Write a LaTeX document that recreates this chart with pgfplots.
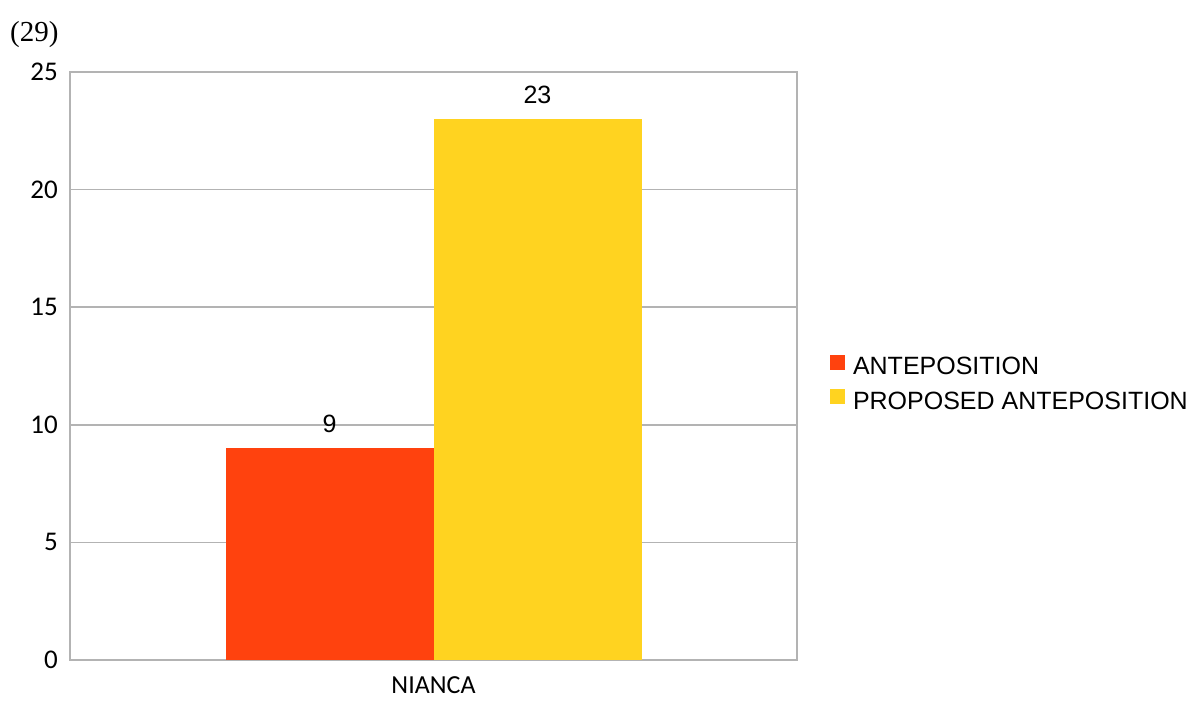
\documentclass[border=0pt]{standalone}
\usepackage{pgfplots}
\pgfplotsset{compat=1.18}
\usepackage{fontspec}
\setmainfont{Liberation Sans}
\newfontfamily\tickfont{Carlito}
\newfontfamily\serifnum{Liberation Serif}
\definecolor{seriesA}{HTML}{FF420E}
\definecolor{seriesB}{HTML}{FFD320}
\definecolor{gridgray}{HTML}{B3B3B3}

\begin{document}
\begin{tikzpicture}[x=1pt,y=1pt]
  \useasboundingbox (0,0) rectangle (1197,702);
  % example number
  \node[anchor=base west, inner sep=0pt] at (10,660)
    {\serifnum\fontsize{29}{34}\selectfont (29)};
  \begin{axis}[
    at={(70pt,42pt)}, anchor=south west,
    scale only axis, width=727pt, height=588pt,
    /pgf/number format/assume math mode=true,
    xmin=-1, xmax=1, ymin=0, ymax=25,
    ytick={0,5,10,15,20,25},
    xtick={0}, xticklabels={NIANCA},
    major tick length=0pt,
    axis line style={gridgray, line width=1.4pt},
    ymajorgrids, major grid style={gridgray, line width=1.4pt},
    yticklabel style={font=\fontsize{27}{32}\selectfont\tickfont, anchor=east, inner sep=0pt, xshift=-12pt},
    xticklabel style={font=\fontsize{26}{31}\selectfont\tickfont, anchor=north, inner sep=0pt, yshift=-16pt},
    ybar, bar width=0.5722,
    nodes near coords,
    every node near coord/.append style={font=\fontsize{25}{30}\selectfont, black, inner sep=0pt, anchor=south, yshift=15pt},
    legend cell align=left,
    legend image code/.code={\fill[#1] (0pt,-3pt) rectangle (15pt,12pt);},
    legend style={at={(1.0454,0.4719)}, anchor=west, draw=none, fill=none,
      inner sep=0pt, outer sep=0pt, row sep=13pt, column sep=8pt,
      nodes={inner sep=0pt, outer sep=0pt},
      font=\fontsize{25}{30}\selectfont},
  ]
    \addplot[draw=none, fill=seriesA, bar shift=-0.2861] coordinates {(0,9)};
    \addplot[draw=none, fill=seriesB, bar shift=0.2861] coordinates {(0,23)};
    \legend{ANTEPOSITION, PROPOSED ANTEPOSITION}
  \end{axis}
\end{tikzpicture}
\end{document}
